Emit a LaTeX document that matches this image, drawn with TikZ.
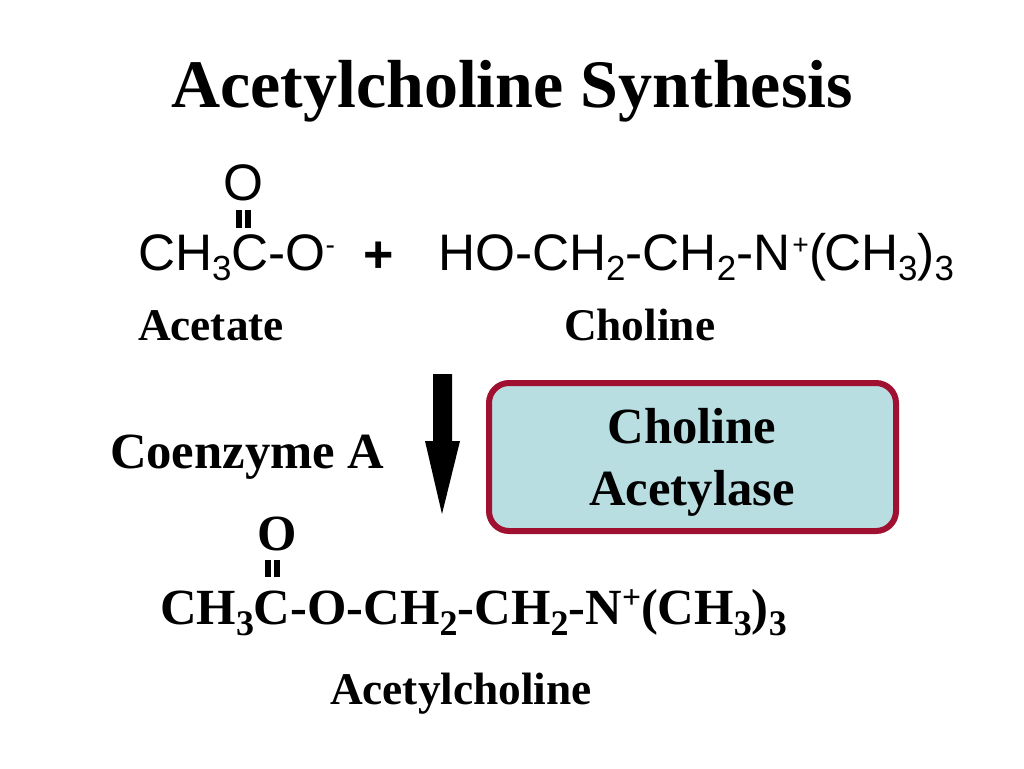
\documentclass[tikz,border=0pt]{standalone}
\usepackage{fontspec}
\setmainfont{Liberation Serif}
\newfontfamily\hel{Liberation Sans}
\definecolor{boxfill}{RGB}{184,222,226}
\definecolor{boxline}{RGB}{160,16,48}
\newcommand{\sbs}[1]{\raisebox{-0.2em}{\scalebox{0.68}{#1}}}
\newcommand{\bsbs}[1]{\raisebox{-0.22em}{\scalebox{0.71}{#1}}}
\newcommand{\sps}[1]{\raisebox{0.3em}{\scalebox{0.55}{#1}}}
\newcommand{\bsps}[1]{\raisebox{0.3em}{\scalebox{0.66}{#1}}}
\tikzset{
 px/.style={x=0.75pt,y=-0.75pt},
 sans/.style={font=\hel\fontsize{38.5}{38.5}\selectfont,inner sep=0,outer sep=0,anchor=base west},
 serif/.style={font=\bfseries\fontsize{34}{34}\selectfont,inner sep=0,outer sep=0,anchor=base west},
 big/.style={font=\bfseries\fontsize{38}{38}\selectfont,inner sep=0,outer sep=0}
}
\begin{document}
\begin{tikzpicture}[px]
\useasboundingbox (0,0) rectangle (1024,768);
\fill[white] (0,0) rectangle (1024,768);
\node[anchor=base,inner sep=0,font=\bfseries\fontsize{51}{51}\selectfont] (title) at (512,107.5) {Acetylcholine Synthesis};
\node[sans] (o1) at (223,200) {O};
\fill (236,210) rectangle (242,228);
\fill (245,210) rectangle (250.5,228);
\node[sans] (acetate) at (138,270) {CH\sbs{3}C-O\sps{-}};
\node[anchor=base,inner sep=0,font=\hel\bfseries\fontsize{39}{39}\selectfont] (plus) at (379,272) {+};
\node[sans] (choline) at (438,270) {HO-CH\sbs{2}-CH\sbs{2}-N\kern1.5pt\sps{+}\kern0.5pt(\kern-2pt CH\sbs{3})\sbs{3}};
\node[serif] (l1) at (138,340) {Acetate};
\node[serif] (l2) at (564,340) {Choline};
\fill (433,374) -- (452,374) -- (452,441) -- (460,441) -- (442,514) -- (425,441) -- (433,441) -- cycle;
\node[big,anchor=base west] (co) at (110,468) {Coenzyme A};
\draw[draw=boxline,fill=boxfill,line width=4.5pt,rounded corners=15pt] (489,383) rectangle (896,531);
\node[big,anchor=base] (e1) at (692,443) {Choline};
\node[big,anchor=base] (e2) at (692,505) {Acetylase};
\node[big,anchor=base west] (o2) at (257,550) {O};
\fill (265,560) rectangle (271,577);
\fill (273.5,560) rectangle (279.5,577);
\node[big,anchor=base west] (ach) at (160,624) {CH\bsbs{3}C-O-CH\bsbs{2}-CH\bsbs{2}-N\bsps{+}(CH\bsbs{3})\bsbs{3}};
\node[serif] (l3) at (330,704) {Acetylcholine};
\end{tikzpicture}
\end{document}
